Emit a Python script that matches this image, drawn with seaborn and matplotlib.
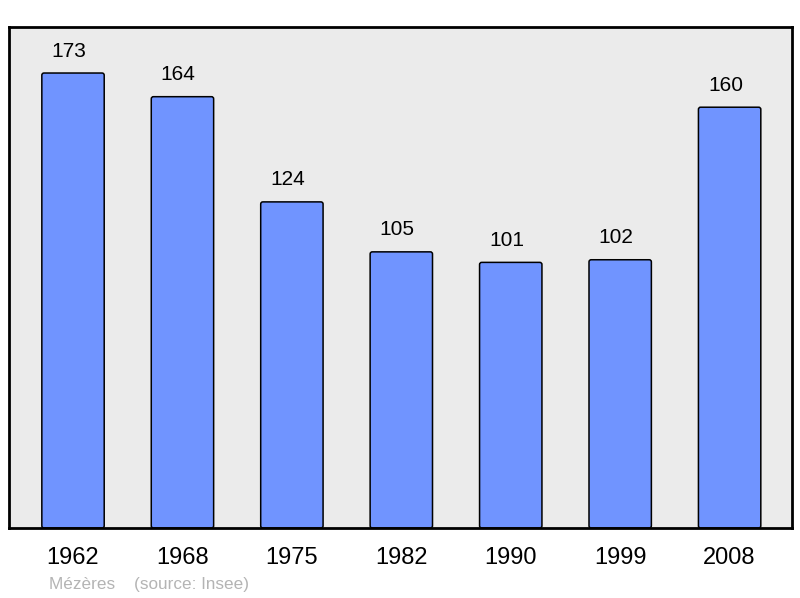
import matplotlib
matplotlib.use("Agg")
import matplotlib.pyplot as plt
import seaborn as sns
import pandas as pd
from matplotlib.patches import FancyBboxPatch

years = ["1962", "1968", "1975", "1982", "1990", "1999", "2008"]
population = [173, 164, 124, 105, 101, 102, 160]

sns.set_style("white")
plt.rcParams['font.family'] = ['Liberation Sans', 'DejaVu Sans']

df = pd.DataFrame({"year": years, "pop": population})

fig = plt.figure(figsize=(8, 5.98), dpi=100)
ax = fig.add_axes([9/800, (598-528)/598, 783/800, 501/598])
ax.set_facecolor("#ebebeb")

sns.barplot(data=df, x="year", y="pop", color="#7094ff", saturation=1,
            width=0.57, edgecolor="black", linewidth=1.1, ax=ax)

ax.set_xlim(-0.585, 6.57)
ax.set_ylim(0, 190.5)

# rounded bar corners
xr = 6.57 + 0.585
yr = 190.5
asp = (yr / 501) / (xr / 783)
for p in list(ax.patches):
    x, y = p.get_x(), p.get_y()
    w, h = p.get_width(), p.get_height()
    fb = FancyBboxPatch((x, y), w, h,
                        boxstyle="round,pad=0,rounding_size=0.02",
                        mutation_aspect=asp,
                        facecolor="#7094ff", edgecolor="black", linewidth=1.1,
                        zorder=p.get_zorder())
    p.set_visible(False)
    ax.add_patch(fb)

for i, v in enumerate(population):
    ax.annotate(str(v), xy=(i, v), xytext=(-3, 9), textcoords="offset points",
                ha="center", va="bottom", fontsize=15, color="black")

ax.set_xlabel("")
ax.set_ylabel("")
ax.set_yticks([])
ax.tick_params(axis="x", length=0, pad=14, labelsize=17, colors="black")
for s in ax.spines.values():
    s.set_visible(True)
    s.set_color("black")
    s.set_linewidth(2)

fig.text(49/800, 1 - 584/598, "Mézères    (source: Insee)", fontsize=12.3,
         color="#b4b4b4", ha="left", va="center")

fig.savefig("out.png", dpi=100)
